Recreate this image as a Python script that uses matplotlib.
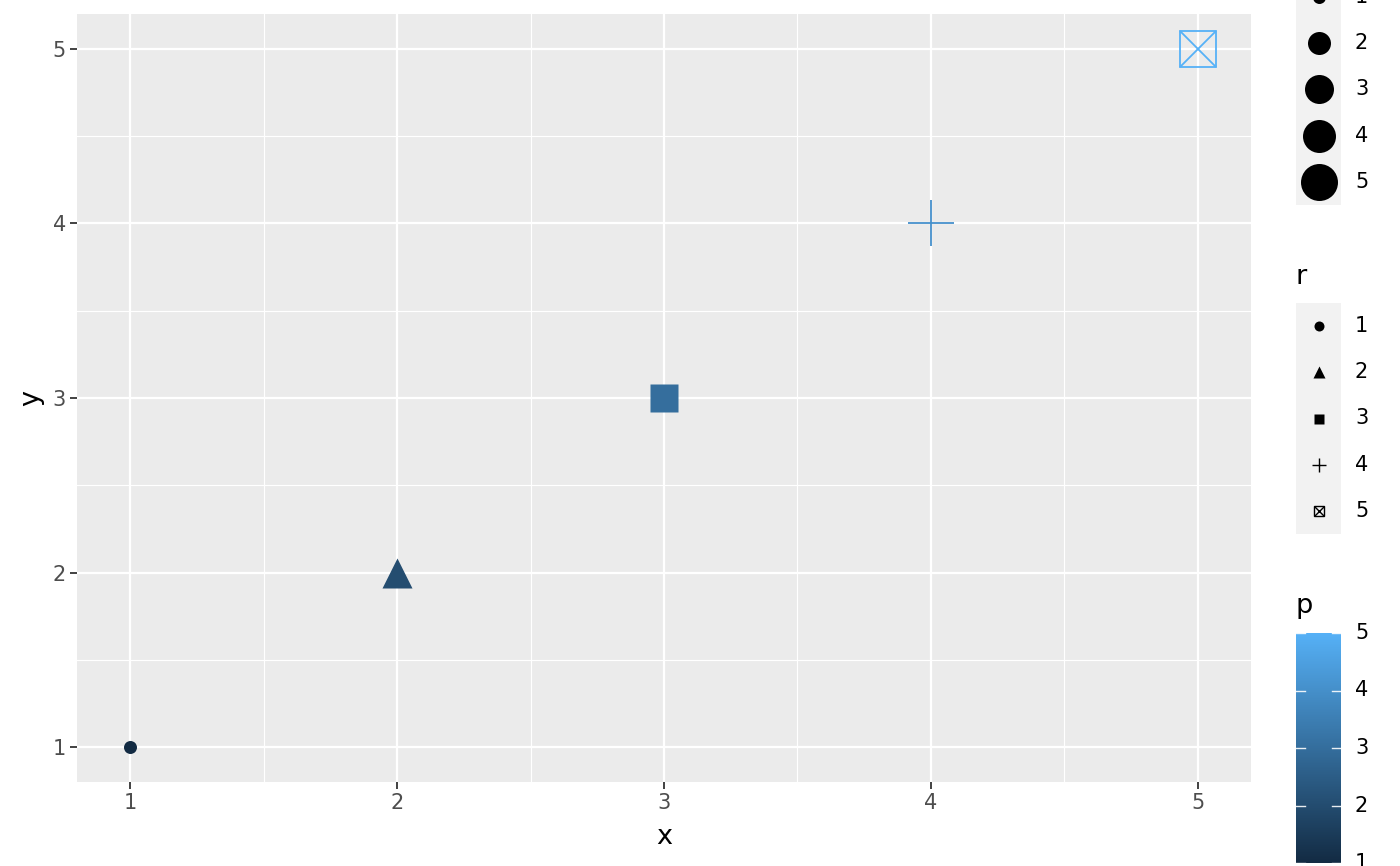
"""ggplot-style scatter with size, shape and colour legends."""

import numpy as np
import matplotlib.pyplot as plt
from matplotlib.colors import LinearSegmentedColormap, Normalize

# data
x = [1, 2, 3, 4, 5]
y = [1, 2, 3, 4, 5]
p = [1, 2, 3, 4, 5]  # colour
r = [1, 2, 3, 4, 5]  # shape
s = [1, 2, 3, 4, 5]  # size

size_breaks = [1, 2, 3, 4, 5]
shape_breaks = [1, 2, 3, 4, 5]
colour_breaks = [1, 2, 3, 4, 5]

# styles
cmap = LinearSegmentedColormap.from_list("gg", ["#132B43", "#56B1F7"])
norm = Normalize(1, 5)
shape_marker = {1: "o", 2: "^", 3: "s", 4: "+", 5: "sx"}
shape_factor = {1: 1.0, 2: 1.27, 3: 0.95, 4: 1.4, 5: 0.97}
size_px = {1: 13, 2: 23, 3: 29, 4: 33, 5: 37}  # circle diameter in px
PX = 0.72  # px -> pt at dpi 100


def draw_marker(ax, xx, yy, shape, diam_px, color, lw, **kw):
    ms = diam_px * shape_factor[shape] * PX
    m = shape_marker[shape]
    if m == "sx":
        ax.plot(xx, yy, marker="s", ms=ms, mfc="none", mec=color, mew=lw, ls="none", **kw)
        ax.plot(xx, yy, marker="x", ms=ms, mec=color, mew=lw, ls="none", **kw)
    elif m == "+":
        ax.plot(xx, yy, marker="+", ms=ms, mec=color, mew=lw, ls="none", **kw)
    else:
        ax.plot(xx, yy, marker=m, ms=ms, mfc=color, mec="none", ls="none", **kw)


fig = plt.figure(figsize=(14, 8.66), dpi=100)
W, H = 1400, 866
ax = fig.add_axes([77 / W, 1 - 782 / H, 1174 / W, 768 / H])
ax.set_facecolor("#EBEBEB")
for sp in ax.spines.values():
    sp.set_visible(False)

ax.set_xlim(0.8, 5.2)
ax.set_ylim(0.8, 5.2)
ax.set_xticks(range(1, 6))
ax.set_yticks(range(1, 6))
ax.set_xticks(np.arange(1.5, 5, 1), minor=True)
ax.set_yticks(np.arange(1.5, 5, 1), minor=True)
ax.grid(which="major", color="white", lw=1.6)
ax.grid(which="minor", color="white", lw=0.8)
ax.set_axisbelow(True)
ax.tick_params(which="major", length=5, width=1.3, color="#333333",
               labelsize=15, labelcolor="#4D4D4D", pad=3)
ax.tick_params(which="minor", length=0)
ax.set_xlabel("x", fontsize=19.5, labelpad=8)
ax.set_ylabel("y", fontsize=19.5, labelpad=6)

for xi, yi, pi, ri, si in zip(x, y, p, r, s):
    draw_marker(ax, xi, yi, ri, size_px[si], cmap(norm(pi)), 1.3, clip_on=False)

# legends drawn on a pixel-coordinate overlay
lg = fig.add_axes([0, 0, 1, 1], facecolor="none")
lg.set_xlim(0, W)
lg.set_ylim(H, 0)
lg.axis("off")

kx0, kx1 = 1296, 1341
kxc = (kx0 + kx1) / 2
lx = 1355
key_h = 46.2
txt = dict(fontsize=15, va="center", ha="left", color="black")

# size legend
top = 20 - key_h
lg.add_patch(plt.Rectangle((kx0, top), kx1 - kx0, key_h * len(size_breaks),
                           color="#F2F2F2", lw=0))
for i, b in enumerate(size_breaks):
    yc = top + key_h * (i + 0.5)
    draw_marker(lg, kxc, yc, 1, size_px[b], "black", 1)
    lg.text(lx, yc, str(b), **txt)

# shape legend
lg.text(kx0 - 1, 277, "r", fontsize=19.5, va="center", ha="left")
top = 303
lg.add_patch(plt.Rectangle((kx0, top), kx1 - kx0, key_h * len(shape_breaks),
                           color="#F2F2F2", lw=0))
for i, b in enumerate(shape_breaks):
    yc = top + key_h * (i + 0.5)
    draw_marker(lg, kxc, yc, b, 10, "black", 1.0)
    lg.text(lx, yc, str(b), **txt)

# colour bar
lg.text(kx0 - 1, 606, "p", fontsize=19.5, va="center", ha="left")
y5, y1 = 633, 863
grad = np.linspace(5, 1, 256).reshape(-1, 1)
lg.imshow(grad, cmap=cmap, norm=norm, extent=[kx0, kx1, y1, y5],
          aspect="auto", interpolation="bilinear")
for b in colour_breaks:
    yc = y1 + (b - 1) / 4 * (y5 - y1)
    lg.plot([kx0, kx0 + 9], [yc, yc], color="white", lw=1, alpha=0.9)
    lg.plot([kx1 - 9, kx1], [yc, yc], color="white", lw=1, alpha=0.9)
    lg.text(lx, yc, str(b), **txt)
lg.set_xlim(0, W)
lg.set_ylim(H, 0)

fig.savefig("out.png", dpi=100)
